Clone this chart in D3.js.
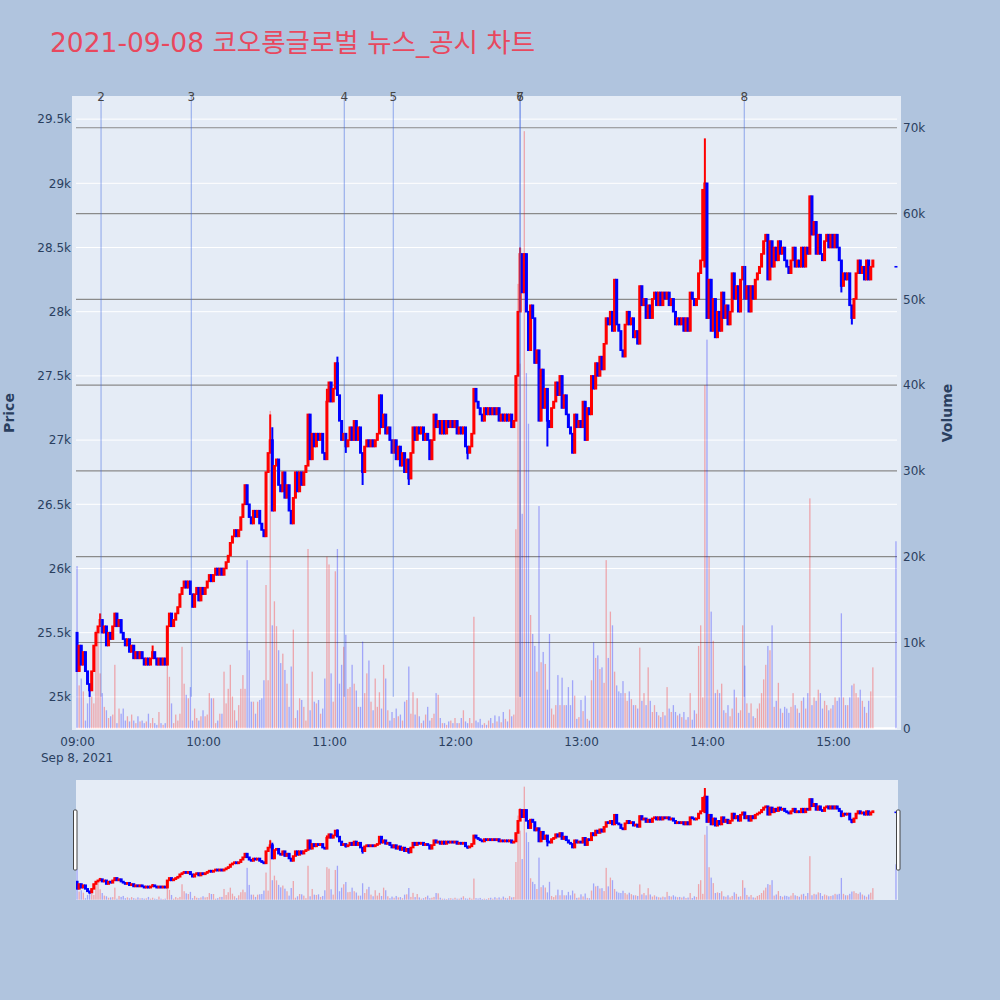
<!DOCTYPE html>
<html><head><meta charset="utf-8">
<script src="https://cdn.jsdelivr.net/npm/d3@7"></script>
<style>body{margin:0;background:#b0c4de;} svg{display:block}</style>
</head><body>
<svg id="c" width="1000" height="1000"></svg>
<script>
// ---- DATA ----
const chartTitle = "2021-09-08 코오롱글로벌 뉴스_공시 차트";
const sessionDate = "2021-09-08";
// one close per minute from 09:00 (index = minute)
const closes = [
25200,25400,25250,25350,25200,25100,25050,25200,25400,25500,
25550,25600,25500,25550,25400,25500,25450,25550,25650,25550,
25600,25500,25450,25400,25450,25350,25400,25300,25350,25300,
25350,25300,25250,25300,25250,25300,25350,25300,25250,25300,
25250,25300,25250,25550,25650,25550,25600,25650,25700,25800,
25850,25900,25850,25900,25800,25700,25800,25850,25750,25850,
25800,25850,25900,25950,25900,25950,26000,25950,26000,25950,
26000,26050,26100,26200,26250,26300,26250,26300,26400,26500,
26650,26500,26400,26350,26450,26400,26450,26350,26300,26250,
26750,26900,27000,26450,26800,26850,26650,26600,26750,26550,
26650,26450,26350,26550,26750,26600,26750,26650,26750,26800,
27200,26850,27050,26950,27050,27000,27050,26900,26850,27300,
27450,27300,27400,27600,27350,27150,27000,27050,26950,27000,
27100,27000,27150,27000,27100,26900,26750,26950,27000,26950,
27000,26950,27000,27050,27350,27100,27200,27050,27100,27000,
26900,27000,26850,26950,26800,26900,26750,26850,26700,26900,
27100,27000,27100,27050,27100,27000,27050,27000,26850,27000,
27200,27100,27150,27050,27150,27050,27150,27100,27150,27100,
27150,27050,27100,27050,27100,26950,26900,26950,27050,27400,
27300,27250,27200,27150,27250,27200,27250,27200,27250,27200,
27250,27150,27200,27150,27200,27150,27200,27100,27150,27500,
28000,28450,28150,28450,28000,27700,28050,27950,27600,27700,
27150,27550,27250,27400,27150,27100,27250,27300,27450,27350,
27500,27250,27350,27200,27100,27050,26900,27200,27100,27150,
27100,27300,27000,27250,27200,27500,27400,27600,27500,27650,
27550,27750,27950,27900,28000,27850,28250,27900,27850,27700,
27650,27900,28000,27900,27950,27800,27850,27750,28200,28050,
28100,27950,28050,27950,28100,28150,28050,28150,28050,28150,
28100,28150,28050,28100,28000,27900,27950,27900,27950,27850,
27950,27850,28150,28100,28050,28100,28300,28400,28950,29000,
27950,28250,27850,28100,27800,28000,27850,28150,27950,28050,
27900,28000,28300,28100,28200,28000,28250,28350,28100,28200,
28000,28200,28100,28250,28300,28350,28450,28550,28600,28250,
28550,28350,28500,28400,28550,28450,28500,28400,28350,28300,
28400,28500,28350,28400,28350,28500,28350,28500,28450,28900,
28600,28700,28450,28600,28450,28400,28550,28600,28500,28600,
28500,28600,28500,28400,28200,28300,28250,28300,28050,27950,
28100,28300,28400,28300,28350,28250,28400,28250,28350,28400
];
// volume per minute, in thousands of shares
const volumesK = [
18.9,5.0,5.8,4.3,0.9,2.9,5.2,3.7,2.9,11.4,
11.0,6.4,4.1,2.5,2.1,1.2,1.4,1.6,7.4,0.6,
2.3,1.7,2.3,0.9,1.4,0.8,1.6,0.9,0.6,1.4,
0.8,0.9,0.6,0.8,1.7,0.6,1.2,0.6,0.4,1.9,
0.6,0.4,0.6,8.3,6.0,2.9,0.6,1.6,0.9,1.7,
9.5,5.2,3.9,3.5,4.8,0.9,2.3,1.2,0.9,1.4,
2.1,1.4,1.6,4.1,3.5,3.5,0.6,0.9,1.7,1.7,
6.6,2.9,4.6,7.4,3.7,2.1,0.9,2.7,4.6,6.2,
4.6,19.6,9.1,3.1,3.1,1.7,3.1,3.3,3.5,5.6,
16.7,5.6,37.0,12.0,14.8,11.9,9.1,7.6,8.7,6.8,
5.2,2.5,7.2,11.5,1.2,2.1,3.5,3.3,2.5,0.9,
20.9,2.1,6.6,3.1,2.9,3.3,1.7,2.3,5.8,20.0,
19.1,6.4,3.1,18.3,20.9,5.2,7.4,9.5,10.9,4.6,
4.8,7.4,5.2,4.4,2.5,2.5,10.1,4.1,6.4,7.9,
3.1,2.1,5.8,2.5,4.2,2.3,7.4,5.8,2.1,0.9,
1.9,1.2,2.3,1.4,1.6,0.9,3.1,3.3,7.2,1.7,
4.2,1.6,3.5,1.4,0.6,0.9,1.6,2.5,0.9,1.2,
1.7,4.1,3.9,1.2,0.6,0.6,0.4,0.8,0.9,0.6,
1.2,0.6,0.6,1.2,2.1,0.8,0.6,1.2,0.6,13.0,
0.9,0.7,1.1,0.4,0.6,0.4,0.9,1.2,0.6,1.5,
0.8,1.4,0.7,1.9,1.1,0.8,2.2,1.4,1.6,23.2,
51.8,42.5,25.0,69.6,41.4,35.5,13.2,11.0,9.6,6.6,
25.9,7.7,8.9,7.5,4.5,11.0,2.3,1.6,2.7,6.2,
2.7,5.9,2.7,2.7,4.8,2.7,5.6,3.8,1.1,1.3,
3.3,2.0,3.8,1.1,0.9,5.6,10.0,8.2,8.5,6.9,
7.1,5.3,19.6,8.2,13.6,12.0,6.6,5.0,4.3,4.1,
5.5,4.1,3.2,4.3,3.4,2.7,2.7,2.3,9.4,3.2,
4.1,2.7,7.1,3.2,1.9,2.7,1.9,1.5,1.3,1.9,
1.5,4.8,2.3,1.9,2.7,1.9,1.5,1.7,1.3,1.9,
1.0,1.3,4.1,1.0,2.1,1.7,9.6,12.0,3.6,40.0,
45.3,20.0,13.6,10.2,4.1,4.5,4.1,5.2,2.1,1.8,
2.7,1.4,2.3,4.5,3.6,1.8,2.1,12.0,7.3,2.9,
1.8,2.9,1.4,1.2,2.3,2.9,4.1,5.7,7.4,9.6,
9.1,12.0,2.5,3.2,5.3,2.3,1.8,2.5,2.3,1.8,
2.5,4.1,2.7,2.3,1.8,3.2,3.6,2.3,4.1,26.8,
2.7,3.6,3.2,4.5,4.1,2.3,3.2,2.7,2.1,2.3,
2.7,3.6,3.2,3.6,13.4,3.6,2.7,2.7,3.6,5.0,
5.2,4.1,3.6,4.5,3.2,2.5,1.8,3.2,4.3,7.1
];
// explicit open / high / low readings where they differ from the connected body
const candleFix = {
  0:{o:25500}, 6:{l:25000}, 11:{h:25650}, 36:{h:25400}, 92:{h:27200}, 93:{h:27100},
  119:{h:27400}, 124:{h:27650}, 128:{l:26900}, 136:{l:26650}, 158:{l:26650},
  186:{l:26850}, 211:{h:28500}, 214:{h:28450}, 224:{l:26950},
  299:{o:28350,h:29350}, 349:{h:28900}, 364:{l:28150}, 369:{l:27900}
};
// closing auction
const auctionTime = "15:30:00";
const auctionOpen = 28350, auctionClose = 28350, auctionVolumeK = 21.8;

const newsLabels = ["2","3","4","5","6","7","8"];
const newsTimes = ["09:11:26","09:54:25","11:07:17","11:30:37","12:31:00","12:31:00","14:17:46"];

const priceTicks = [25000,25500,26000,26500,27000,27500,28000,28500,29000,29500];
const volumeTicks = [0,10000,20000,30000,40000,50000,60000,70000];
const hourTicks = ["09:00","10:00","11:00","12:00","13:00","14:00","15:00"];
const firstTickDateLabel = "Sep 8, 2021";

// ---- BUILD ----
const parse = d3.timeParse("%Y-%m-%d %H:%M:%S");
const base = parse(sessionDate + " 09:00:00");
const tMin = m => new Date(base.getTime() + m*60000);

const candles = closes.map((c,i) => {
  const f = candleFix[i] || {};
  const o = f.o !== undefined ? f.o : (i === 0 ? c : closes[i-1]);
  const h = f.h !== undefined ? f.h : Math.max(o,c);
  const l = f.l !== undefined ? f.l : Math.min(o,c);
  return {t: tMin(i), o, h, l, c, v: volumesK[i]*1000, prev: i>0 ? closes[i-1] : o};
});
candles.push({t: parse(sessionDate+" "+auctionTime), o: auctionOpen, h: Math.max(auctionOpen,auctionClose),
  l: Math.min(auctionOpen,auctionClose), c: auctionClose, v: auctionVolumeK*1000, prev: closes[closes.length-1]});

const RED = "#ff0000", BLUE = "#0000ff";
function candleColor(d){ if (d.c > d.o) return RED; if (d.c < d.o) return BLUE; return d.c >= d.prev ? RED : BLUE; }
function volColor(d){ return d.c > d.o ? RED : BLUE; }

const svg = d3.select("#c");
const W = 1000, H = 1000;
svg.append("rect").attr("width",W).attr("height",H).attr("fill","#b0c4de");

const P = {x0:72, x1:901, y0:96, y1:730};
const S = {x0:76, x1:898, y0:780, y1:900};

const x = d3.scaleTime().domain([tMin(-2.4), tMin(392.4)]).range([P.x0, P.x1]);
const yP = d3.scaleLinear().domain([24742, 29680]).range([P.y1, P.y0]);
const yV = d3.scaleLinear().domain([-200, 73700]).range([P.y1, P.y0]);
const yPs = d3.scaleLinear().domain([24742, 29680]).range([S.y1, S.y0]);
const yVs = d3.scaleLinear().domain([-200, 73700]).range([S.y1, S.y0]);

const FONT = "'DejaVu Sans', 'Open Sans', sans-serif";
const TXT = "#2a3f5f";

// title
svg.append("text").attr("x",50).attr("y",52)
  .attr("font-family","'DejaVu Sans','Noto Sans CJK KR',sans-serif")
  .attr("font-size",26.5).attr("fill","#e8485e").text(chartTitle);

// plot bg
svg.append("rect").attr("x",P.x0).attr("y",P.y0).attr("width",P.x1-P.x0).attr("height",P.y1-P.y0).attr("fill","#e5ecf6");

const defs = svg.append("defs");
defs.append("clipPath").attr("id","clipMain").append("rect")
  .attr("x",P.x0).attr("y",P.y0).attr("width",P.x1-P.x0).attr("height",P.y1-P.y0);
defs.append("clipPath").attr("id","clipSlider").append("rect")
  .attr("x",S.x0).attr("y",S.y0).attr("width",S.x1-S.x0).attr("height",S.y1-S.y0);

// grids
const GX0 = 76, GX1 = 897;
svg.append("g").selectAll("line").data(priceTicks).join("line")
  .attr("x1",GX0).attr("x2",GX1).attr("y1",d=>yP(d)).attr("y2",d=>yP(d))
  .attr("stroke","#ffffff").attr("stroke-width",1);
svg.append("g").selectAll("line").data(volumeTicks.filter(v=>v>0)).join("line")
  .attr("x1",GX0).attr("x2",GX1).attr("y1",d=>yV(d)).attr("y2",d=>yV(d))
  .attr("stroke","#8a8a8a").attr("stroke-width",1.2);
svg.append("line").attr("x1",GX0).attr("x2",GX1).attr("y1",yV(0)).attr("y2",yV(0))
  .attr("stroke","#ffffff").attr("stroke-width",2);

function drawSeries(g, yPrice, yVol){
  g.append("g").selectAll("rect").data(candles).join("rect")
    .attr("x", d => x(d.t) - 0.65).attr("width", 1.3)
    .attr("y", d => yVol(d.v)).attr("height", d => Math.max(0, yVol(0) - yVol(d.v)))
    .attr("fill", d => volColor(d)).attr("fill-opacity", 0.3);
  const cg = g.append("g");
  cg.selectAll("line").data(candles).join("line")
    .attr("x1", d => x(d.t)).attr("x2", d => x(d.t))
    .attr("y1", d => yPrice(d.h)).attr("y2", d => yPrice(d.l))
    .attr("stroke", d => candleColor(d)).attr("stroke-width", 2);
  cg.selectAll("rect").data(candles).join("rect")
    .attr("x", d => x(d.t) - 1.5).attr("width", 3)
    .attr("y", d => yPrice(Math.max(d.o,d.c)) - 0.8)
    .attr("height", d => Math.abs(yPrice(d.o) - yPrice(d.c)) + 1.6)
    .attr("fill", d => candleColor(d));
}

drawSeries(svg.append("g").attr("clip-path","url(#clipMain)"), yP, yV);

// news markers
const news = newsLabels.map((lab,i) => ({lab, t: parse(sessionDate+" "+newsTimes[i])}));
const ng = svg.append("g");
ng.selectAll("line").data(news).join("line")
  .attr("x1", d => x(d.t)).attr("x2", d => x(d.t))
  .attr("y1", P.y0).attr("y2", yP(25000))
  .attr("stroke", "rgb(65,105,225)").attr("stroke-opacity", 0.45).attr("stroke-width", 1.2);
ng.selectAll("text").data(news).join("text")
  .attr("x", d => x(d.t)).attr("y", 101).attr("text-anchor","middle")
  .attr("font-family", FONT).attr("font-size", 12).attr("fill", "#444").text(d => d.lab);

// axes
const axL = svg.append("g").attr("transform",`translate(${P.x0},0)`)
  .call(d3.axisLeft(yP).tickValues(priceTicks).tickFormat(d3.format("~s")).tickSize(0).tickPadding(1));
const axR = svg.append("g").attr("transform",`translate(${P.x1},0)`)
  .call(d3.axisRight(yV).tickValues(volumeTicks).tickFormat(d3.format("~s")).tickSize(0).tickPadding(2));
const hourDates = hourTicks.map(h => parse(sessionDate+" "+h+":00"));
const axB = svg.append("g").attr("transform",`translate(0,${P.y1})`)
  .call(d3.axisBottom(x).tickValues(hourDates).tickFormat(d3.timeFormat("%H:%M")).tickSize(0).tickPadding(7));
[axL, axR, axB].forEach(a => {
  a.select(".domain").remove();
  a.selectAll("text").attr("font-family", FONT).attr("font-size", 12).attr("fill", TXT);
});
svg.append("text").attr("x", x(hourDates[0])).attr("y", 762).attr("text-anchor","middle")
  .attr("font-family", FONT).attr("font-size", 12).attr("fill", TXT).text(firstTickDateLabel);

// axis titles
svg.append("text").attr("transform",`translate(14,${(P.y0+P.y1)/2}) rotate(-90)`)
  .attr("text-anchor","middle").attr("font-family", FONT).attr("font-size", 14)
  .attr("font-weight","bold").attr("fill", TXT).text("Price");
svg.append("text").attr("transform",`translate(952,${(P.y0+P.y1)/2}) rotate(-90)`)
  .attr("text-anchor","middle").attr("font-family", FONT).attr("font-size", 14)
  .attr("font-weight","bold").attr("fill", TXT).text("Volume");

// range slider
svg.append("rect").attr("x",S.x0).attr("y",S.y0).attr("width",S.x1-S.x0).attr("height",S.y1-S.y0).attr("fill","#e5ecf6");
drawSeries(svg.append("g").attr("clip-path","url(#clipSlider)"), yPs, yVs);
[[73.5],[896.5]].forEach(([hx]) => {
  svg.append("rect").attr("x",hx).attr("y",810).attr("width",3.5).attr("height",60)
    .attr("rx",1).attr("fill","#ffffff").attr("stroke","#444").attr("stroke-width",1);
});
</script>
</body></html>
